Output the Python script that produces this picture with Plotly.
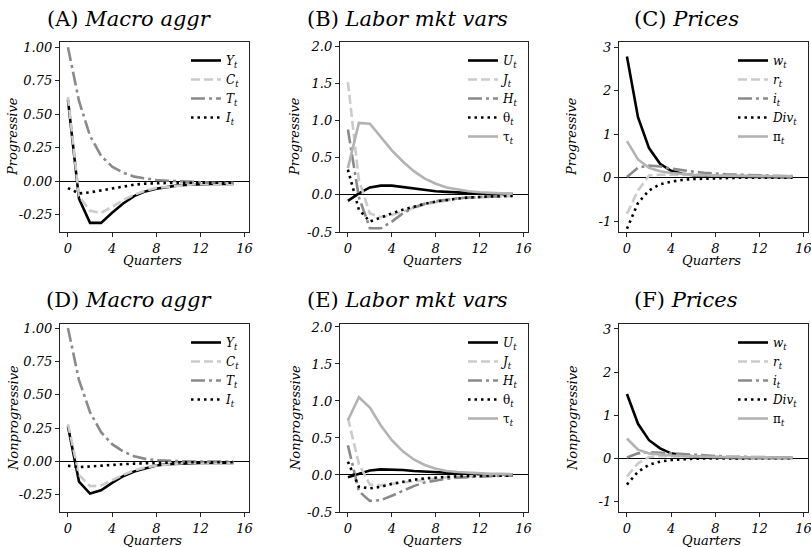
import plotly.graph_objects as go

quarters = list(range(16))

# Panel A / D : Macro aggregates
A_Y = [0.61, -0.13, -0.31, -0.31, -0.235, -0.165, -0.11, -0.075, -0.055, -0.04, -0.03, -0.025, -0.02, -0.02, -0.02, -0.02]
A_C = [0.63, -0.11, -0.22, -0.235, -0.19, -0.14, -0.10, -0.07, -0.05, -0.04, -0.03, -0.025, -0.02, -0.02, -0.02, -0.02]
A_T = [1.00, 0.60, 0.34, 0.19, 0.11, 0.065, 0.035, 0.02, 0.01, 0.005, 0.0, -0.005, -0.01, -0.01, -0.01, -0.01]
A_I = [-0.05, -0.09, -0.082, -0.067, -0.05, -0.037, -0.025, -0.017, -0.013, -0.01, -0.01, -0.01, -0.01, -0.01, -0.01, -0.01]

D_Y = [0.265, -0.15, -0.24, -0.215, -0.16, -0.11, -0.075, -0.05, -0.03, -0.02, -0.015, -0.01, -0.01, -0.01, -0.01, -0.01]
D_C = [0.28, -0.10, -0.185, -0.18, -0.14, -0.10, -0.067, -0.045, -0.03, -0.02, -0.015, -0.01, -0.01, -0.01, -0.01, -0.01]
D_T = [1.00, 0.61, 0.37, 0.22, 0.13, 0.075, 0.04, 0.02, 0.01, 0.005, 0.0, 0.0, 0.0, 0.0, 0.0, 0.0]
D_I = [-0.032, -0.042, -0.037, -0.03, -0.025, -0.02, -0.016, -0.012, -0.01, -0.008, -0.006, -0.005, -0.005, -0.005, -0.005, -0.005]

# Panel B / E : Labor market variables
B_U = [-0.08, 0.02, 0.10, 0.125, 0.125, 0.105, 0.08, 0.063, 0.05, 0.04, 0.03, 0.02, 0.015, 0.01, 0.01, 0.01]
B_J = [1.52, 0.20, -0.25, -0.30, -0.27, -0.22, -0.17, -0.13, -0.10, -0.07, -0.05, -0.04, -0.03, -0.02, -0.02, -0.015]
B_H = [0.88, -0.03, -0.45, -0.45, -0.36, -0.25, -0.17, -0.12, -0.085, -0.06, -0.045, -0.035, -0.025, -0.02, -0.02, -0.015]
B_TH = [0.34, -0.20, -0.36, -0.30, -0.25, -0.20, -0.155, -0.12, -0.09, -0.065, -0.05, -0.035, -0.025, -0.02, -0.015, -0.015]
B_TAU = [0.36, 0.97, 0.96, 0.78, 0.60, 0.45, 0.32, 0.22, 0.15, 0.10, 0.07, 0.05, 0.035, 0.025, 0.02, 0.015]

E_U = [-0.03, 0.02, 0.06, 0.076, 0.076, 0.067, 0.054, 0.045, 0.035, 0.025, 0.02, 0.015, 0.01, 0.01, 0.01, 0.01]
E_J = [0.77, 0.15, -0.13, -0.14, -0.12, -0.10, -0.08, -0.06, -0.04, -0.03, -0.02, -0.015, -0.01, -0.01, -0.01, -0.01]
E_H = [0.40, -0.22, -0.35, -0.34, -0.28, -0.21, -0.15, -0.10, -0.07, -0.05, -0.035, -0.025, -0.02, -0.015, -0.01, -0.01]
E_TH = [0.18, -0.16, -0.18, -0.16, -0.12, -0.09, -0.065, -0.045, -0.03, -0.025, -0.018, -0.013, -0.01, -0.01, -0.01, -0.01]
E_TAU = [0.74, 1.05, 0.91, 0.67, 0.47, 0.32, 0.21, 0.135, 0.085, 0.055, 0.04, 0.03, 0.02, 0.015, 0.015, 0.01]

# Panel C / F : Prices
C_W = [2.78, 1.39, 0.68, 0.32, 0.16, 0.09, 0.06, 0.04, 0.03, 0.025, 0.02, 0.02, 0.015, 0.01, 0.01, 0.01]
C_R = [-0.83, -0.29, 0.05, 0.07, 0.07, 0.065, 0.06, 0.055, 0.05, 0.05, 0.045, 0.045, 0.04, 0.04, 0.04, 0.04]
C_I = [0.015, 0.23, 0.28, 0.26, 0.21, 0.17, 0.14, 0.115, 0.09, 0.08, 0.07, 0.06, 0.05, 0.05, 0.04, 0.04]
C_DIV = [-1.17, -0.58, -0.29, -0.15, -0.09, -0.05, -0.03, -0.02, -0.01, -0.005, 0.0, 0.0, 0.0, 0.0, 0.0, 0.0]
C_PI = [0.84, 0.42, 0.23, 0.15, 0.11, 0.08, 0.065, 0.055, 0.05, 0.045, 0.04, 0.04, 0.035, 0.035, 0.03, 0.03]

F_W = [1.49, 0.80, 0.42, 0.23, 0.115, 0.07, 0.045, 0.03, 0.02, 0.015, 0.01, 0.01, 0.01, 0.01, 0.01, 0.01]
F_R = [-0.42, -0.115, 0.03, 0.05, 0.045, 0.04, 0.035, 0.03, 0.03, 0.025, 0.025, 0.02, 0.02, 0.02, 0.02, 0.02]
F_I = [0.02, 0.115, 0.145, 0.13, 0.11, 0.09, 0.075, 0.06, 0.05, 0.04, 0.035, 0.03, 0.025, 0.02, 0.02, 0.02]
F_DIV = [-0.61, -0.31, -0.15, -0.077, -0.04, -0.02, -0.01, -0.005, 0.0, 0.0, 0.0, 0.0, 0.0, 0.0, 0.0, 0.0]
F_PI = [0.46, 0.20, 0.115, 0.085, 0.065, 0.05, 0.04, 0.035, 0.03, 0.025, 0.025, 0.02, 0.02, 0.02, 0.02, 0.02]

panel_titles = ["(A) <i>Macro aggr</i>", "(B) <i>Labor mkt vars</i>", "(C) <i>Prices</i>",
                "(D) <i>Macro aggr</i>", "(E) <i>Labor mkt vars</i>", "(F) <i>Prices</i>"]
row_labels = ["Progressive", "Nonprogressive"]
x_label = "Quarters"
x_ticks = [0, 4, 8, 12, 16]
macro_ticks = [-0.25, 0.0, 0.25, 0.5, 0.75, 1.0]
labor_ticks = [-0.5, 0.0, 0.5, 1.0, 1.5, 2.0]
price_ticks = [-1, 0, 1, 2, 3]

macro_names = ["<i>Y</i><sub><i>t</i></sub>", "<i>C</i><sub><i>t</i></sub>",
               "<i>T</i><sub><i>t</i></sub>", "<i>I</i><sub><i>t</i></sub>"]
labor_names = ["<i>U</i><sub><i>t</i></sub>", "<i>J</i><sub><i>t</i></sub>",
               "<i>H</i><sub><i>t</i></sub>", "θ<sub><i>t</i></sub>", "τ<sub><i>t</i></sub>"]
price_names = ["<i>w</i><sub><i>t</i></sub>", "<i>r</i><sub><i>t</i></sub>",
               "<i>i</i><sub><i>t</i></sub>", "<i>Div</i><sub><i>t</i></sub>", "π<sub><i>t</i></sub>"]

BLACK = "#000000"
LIGHT = "#cbcbcb"
MID = "#8a8a8a"
SOFT = "#b3b3b3"
DASH = "9px,4px"
DASHDOT = "14px,4px,3px,4px"
DOT = "2.5px,4px"

macro_styles = [(BLACK, "solid"), (LIGHT, DASH), (MID, DASHDOT), (BLACK, DOT)]
five_styles = [(BLACK, "solid"), (LIGHT, DASH), (MID, DASHDOT), (BLACK, DOT), (SOFT, "solid")]

panels = [
    ([A_Y, A_C, A_T, A_I], macro_names, macro_styles, macro_ticks, [-0.378, 1.04], "{:.2f}"),
    ([B_U, B_J, B_H, B_TH, B_TAU], labor_names, five_styles, labor_ticks, [-0.5, 2.06], "{:.1f}"),
    ([C_W, C_R, C_I, C_DIV, C_PI], price_names, five_styles, price_ticks, [-1.245, 3.115], "{:d}"),
    ([D_Y, D_C, D_T, D_I], macro_names, macro_styles, macro_ticks, [-0.378, 1.03], "{:.2f}"),
    ([E_U, E_J, E_H, E_TH, E_TAU], labor_names, five_styles, labor_ticks, [-0.5, 2.04], "{:.1f}"),
    ([F_W, F_R, F_I, F_DIV, F_PI], price_names, five_styles, price_ticks, [-1.245, 3.115], "{:d}"),
]

# The figure is drawn a little wider than the 811 px window so that the
# right-most "16" tick label is not hidden at the div edge.
W, H = 830, 547
col_px = [(60, 249), (340, 528), (619, 808)]
row_px = [(42, 232), (324, 512)]
title_cx = [129, 407, 686]
title_cy = [19, 300]
ylab_cx = [13, 295, 572]

FONT = "DejaVu Serif"
fig = go.Figure()
annotations = []
layout = dict(
    width=W, height=H, margin=dict(l=0, r=0, t=0, b=0),
    paper_bgcolor="white", plot_bgcolor="white",
    font=dict(family=FONT, color="black"),
)

for k, (series, names, styles, yt, yr, fmt) in enumerate(panels):
    r, c = divmod(k, 3)
    n = k + 1
    xa = "x" if n == 1 else f"x{n}"
    ya = "y" if n == 1 else f"y{n}"
    leg = "legend" if n == 1 else f"legend{n}"
    for vals, name, (col, dash) in zip(series, names, styles):
        fig.add_trace(go.Scatter(
            x=quarters, y=vals, mode="lines", name=name,
            line=dict(color=col, dash=dash, width=2.6),
            xaxis=xa, yaxis=ya, legend=leg, showlegend=True,
        ))
    x0, x1 = col_px[c]
    y0, y1 = row_px[r]
    xd = [x0 / W, x1 / W]
    yd = [1 - y1 / H, 1 - y0 / H]
    axcommon = dict(showline=True, linecolor="#222222", linewidth=1.4, mirror=True,
                    ticks="outside", ticklen=4, tickwidth=1.2, tickcolor="#222222",
                    showgrid=False, automargin=False, ticklabeloverflow="allow",
                    tickfont=dict(family=FONT, size=13, style="italic", color="black"))
    layout[("xaxis" if n == 1 else f"xaxis{n}")] = dict(
        axcommon, domain=xd, anchor=ya, range=[-0.72, 16.4], zeroline=False,
        tickmode="array", tickvals=x_ticks, ticktext=[f"<i>{t}</i>" for t in x_ticks])
    layout[("yaxis" if n == 1 else f"yaxis{n}")] = dict(
        axcommon, domain=yd, anchor=xa, range=yr,
        zeroline=True, zerolinecolor="black", zerolinewidth=1.4,
        tickmode="array", tickvals=yt, ticktext=["<i>" + fmt.format(t) + "</i>" for t in yt])
    layout[leg] = dict(
        x=(x1 - 4) / W, xanchor="right", y=1 - (y0 + 4) / H, yanchor="top",
        bgcolor="rgba(0,0,0,0)", borderwidth=0, itemwidth=30,
        font=dict(family=FONT, size=12, color="black"), tracegroupgap=0,
    )
    annotations.append(dict(text=panel_titles[k], x=title_cx[c] / W, y=1 - title_cy[r] / H,
                            xref="paper", yref="paper", showarrow=False,
                            xanchor="center", yanchor="middle",
                            font=dict(family=FONT, size=21, color="black")))
    annotations.append(dict(text=f"<i>{row_labels[r]}</i>", x=ylab_cx[c] / W,
                            y=1 - (y0 + y1) / 2 / H, xref="paper", yref="paper",
                            showarrow=False, textangle=-90, xanchor="center", yanchor="middle",
                            font=dict(family=FONT, size=13, color="black")))
    annotations.append(dict(text=f"<i>{x_label}</i>", x=((x0 + x1) / 2 - 2) / W,
                            y=1 - (y1 + 28) / H, xref="paper", yref="paper",
                            showarrow=False, xanchor="center", yanchor="middle",
                            font=dict(family=FONT, size=13, color="black")))

layout["annotations"] = annotations
fig.update_layout(**layout)

js = """
document.body.style.margin='0';
function showTicks(){
  document.querySelectorAll('g.xtick, g.x2tick, g.x3tick, g.x4tick, g.x5tick, g.x6tick').forEach(function(g){
    g.style.display=''; g.removeAttribute('display'); g.style.visibility='visible';
    g.querySelectorAll('text').forEach(function(t){
      t.style.display=''; t.removeAttribute('display'); t.style.visibility='visible';
      t.style.opacity='1'; t.setAttribute('opacity', '1');
    });
  });
}
setTimeout(showTicks, 100);
setTimeout(showTicks, 400);
"""
fig.write_html("out.html", config={"displayModeBar": False}, post_script=js)
